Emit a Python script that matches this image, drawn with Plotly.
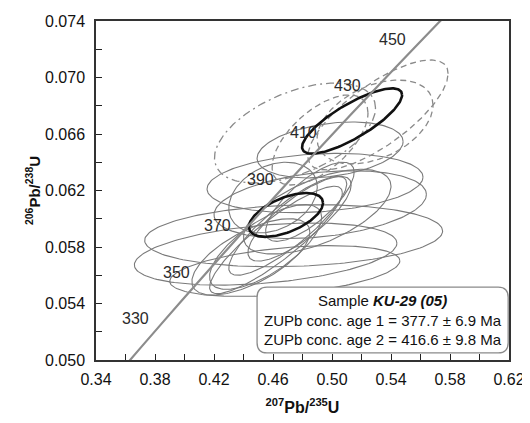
import numpy as np
import plotly.graph_objects as go

# Concordia curve (207Pb/235U, 206Pb/238U) at ages in Ma
conc_age = [310, 320, 330, 340, 350, 360, 370, 380, 390, 400, 410, 420, 430, 440, 450, 460, 470]
conc_x = [0.35704, 0.37047, 0.38403, 0.39773, 0.41156, 0.42553, 0.43964, 0.45389, 0.46828,
          0.48281, 0.49749, 0.51231, 0.52728, 0.54239, 0.55766, 0.57307, 0.58864]
conc_y = [0.049264, 0.050893, 0.052524, 0.054158, 0.055795, 0.057434, 0.059075, 0.060720,
          0.062366, 0.064016, 0.065667, 0.067322, 0.068979, 0.070638, 0.072300, 0.073965, 0.075632]
label_ages = [330, 350, 370, 390, 410, 430, 450]

# Error ellipses: centre, half-extent in x and y, correlation, style
ell_cx = [0.474, 0.455, 0.468, 0.492, 0.4987, 0.4885, 0.460,
          0.470, 0.478, 0.462, 0.485, 0.455, 0.490, 0.445,
          0.5312, 0.5292, 0.4919, 0.4749,
          0.4688, 0.5136]
ell_cy = [0.0588, 0.0575, 0.0563, 0.0610, 0.06487, 0.06253, 0.0615,
          0.0595, 0.0600, 0.0585, 0.0612, 0.0580, 0.0605, 0.0573,
          0.06735, 0.06685, 0.06558, 0.06607,
          0.06027, 0.06692]
ell_ex = [0.101, 0.089, 0.078, 0.072, 0.0495, 0.0732, 0.030,
          0.040, 0.035, 0.045, 0.030, 0.038, 0.050, 0.040,
          0.0475, 0.0393, 0.0325, 0.0546,
          0.0251, 0.0339]
ell_ey = [0.0022, 0.0022, 0.0018, 0.0024, 0.00198, 0.0021, 0.0025,
          0.0035, 0.0030, 0.0038, 0.0028, 0.0030, 0.0030, 0.0027,
          0.00389, 0.00297, 0.00319, 0.00354,
          0.00155, 0.00231]
ell_rho = [0.15, 0.35, 0.4, 0.3, 0.3, 0.2, 0.3,
           0.85, 0.8, 0.88, 0.75, 0.7, 0.6, 0.65,
           0.75, 0.4, 0.6, 0.5,
           0.55, 0.8]
ell_kind = ["thin"] * 14 + ["dash", "dash", "dash", "dashdot"] + ["bold", "bold"]

styles = {
    "thin": dict(color="#7a7a7a", width=1.1, dash="solid"),
    "dash": dict(color="#8a8a8a", width=1.3, dash="6px,4px"),
    "dashdot": dict(color="#8a8a8a", width=1.3, dash="8px,4px,2px,4px"),
    "bold": dict(color="#111111", width=2.6, dash="solid"),
}

fig = go.Figure()

theta = np.linspace(0, 2 * np.pi, 181)
order = [i for i, k in enumerate(ell_kind) if k != "bold"] + [i for i, k in enumerate(ell_kind) if k == "bold"]
for i in order:
    r = ell_rho[i]
    xs = ell_cx[i] + ell_ex[i] * np.cos(theta)
    ys = ell_cy[i] + ell_ey[i] * (r * np.cos(theta) + np.sqrt(1 - r * r) * np.sin(theta))
    fig.add_trace(go.Scatter(x=xs, y=ys, mode="lines", line=styles[ell_kind[i]],
                             hoverinfo="skip", showlegend=False))

fig.add_trace(go.Scatter(x=conc_x, y=conc_y, mode="lines",
                         line=dict(color="#8c8c8c", width=2.2, shape="spline"),
                         showlegend=False, hoverinfo="skip"))

for a in label_ages:
    k = conc_age.index(a)
    fig.add_annotation(x=conc_x[k], y=conc_y[k], text=str(a), showarrow=False,
                       xshift=-25, yshift=6, xanchor="center", yanchor="middle",
                       font=dict(family="Liberation Sans, Arial", size=16, color="#2a2a2a"))

# Rounded info box
x0, x1, y0, y1 = 0.390, 0.998, 0.021, 0.215
rx, ry = 0.024, 0.03
path = (f"M {x0+rx},{y0} L {x1-rx},{y0} Q {x1},{y0} {x1},{y0+ry} L {x1},{y1-ry} "
        f"Q {x1},{y1} {x1-rx},{y1} L {x0+rx},{y1} Q {x0},{y1} {x0},{y1-ry} "
        f"L {x0},{y0+ry} Q {x0},{y0} {x0+rx},{y0} Z")
fig.add_shape(type="path", path=path, xref="paper", yref="paper",
              line=dict(color="#8a8a8a", width=1.3), fillcolor="white", layer="above")
fig.add_annotation(x=0.695, y=0.118, xref="paper", yref="paper", showarrow=False,
                   xanchor="center", yanchor="middle",
                   text="Sample <b><i>KU-29 (05)</i></b><br>ZUPb conc. age 1 = 377.7 ± 6.9 Ma"
                        "<br>ZUPb conc. age 2 = 416.6 ± 9.8 Ma",
                   align="center",
                   font=dict(family="Liberation Sans, Arial", size=15, color="#111111"))

fig.update_layout(
    width=522, height=412,
    margin=dict(l=88, r=21, t=13, b=60),
    paper_bgcolor="white", plot_bgcolor="white",
    font=dict(family="Liberation Sans, Arial", color="#111111"),
    xaxis=dict(range=[0.34, 0.62], dtick=0.04, tick0=0.34, tickformat=".2f", automargin=False,
               ticks="inside", ticklen=6, tickcolor="#222", showgrid=False, zeroline=False,
               showline=True, linecolor="#333", linewidth=1.5, mirror=True,
               minor=dict(dtick=0.02, ticks="inside", ticklen=6, tickcolor="#222", showgrid=False),
               tickfont=dict(size=16, color="#111"), ticklabelstandoff=4,
               title=dict(text="<b><sup>207</sup>Pb/<sup>235</sup>U</b>", font=dict(size=16), standoff=15)),
    yaxis=dict(range=[0.050, 0.074], dtick=0.004, tick0=0.050, tickformat=".3f", automargin=False,
               ticks="inside", ticklen=6, tickcolor="#222", showgrid=False, zeroline=False,
               showline=True, linecolor="#333", linewidth=1.5, mirror=True,
               minor=dict(dtick=0.002, ticks="inside", ticklen=6, tickcolor="#222", showgrid=False),
               tickfont=dict(size=16, color="#111"), ticklabelstandoff=6,
               title=dict(text="<b><sup>206</sup>Pb/<sup>238</sup>U</b>", font=dict(size=15), standoff=1)),
)

fig.write_html("out.html")
